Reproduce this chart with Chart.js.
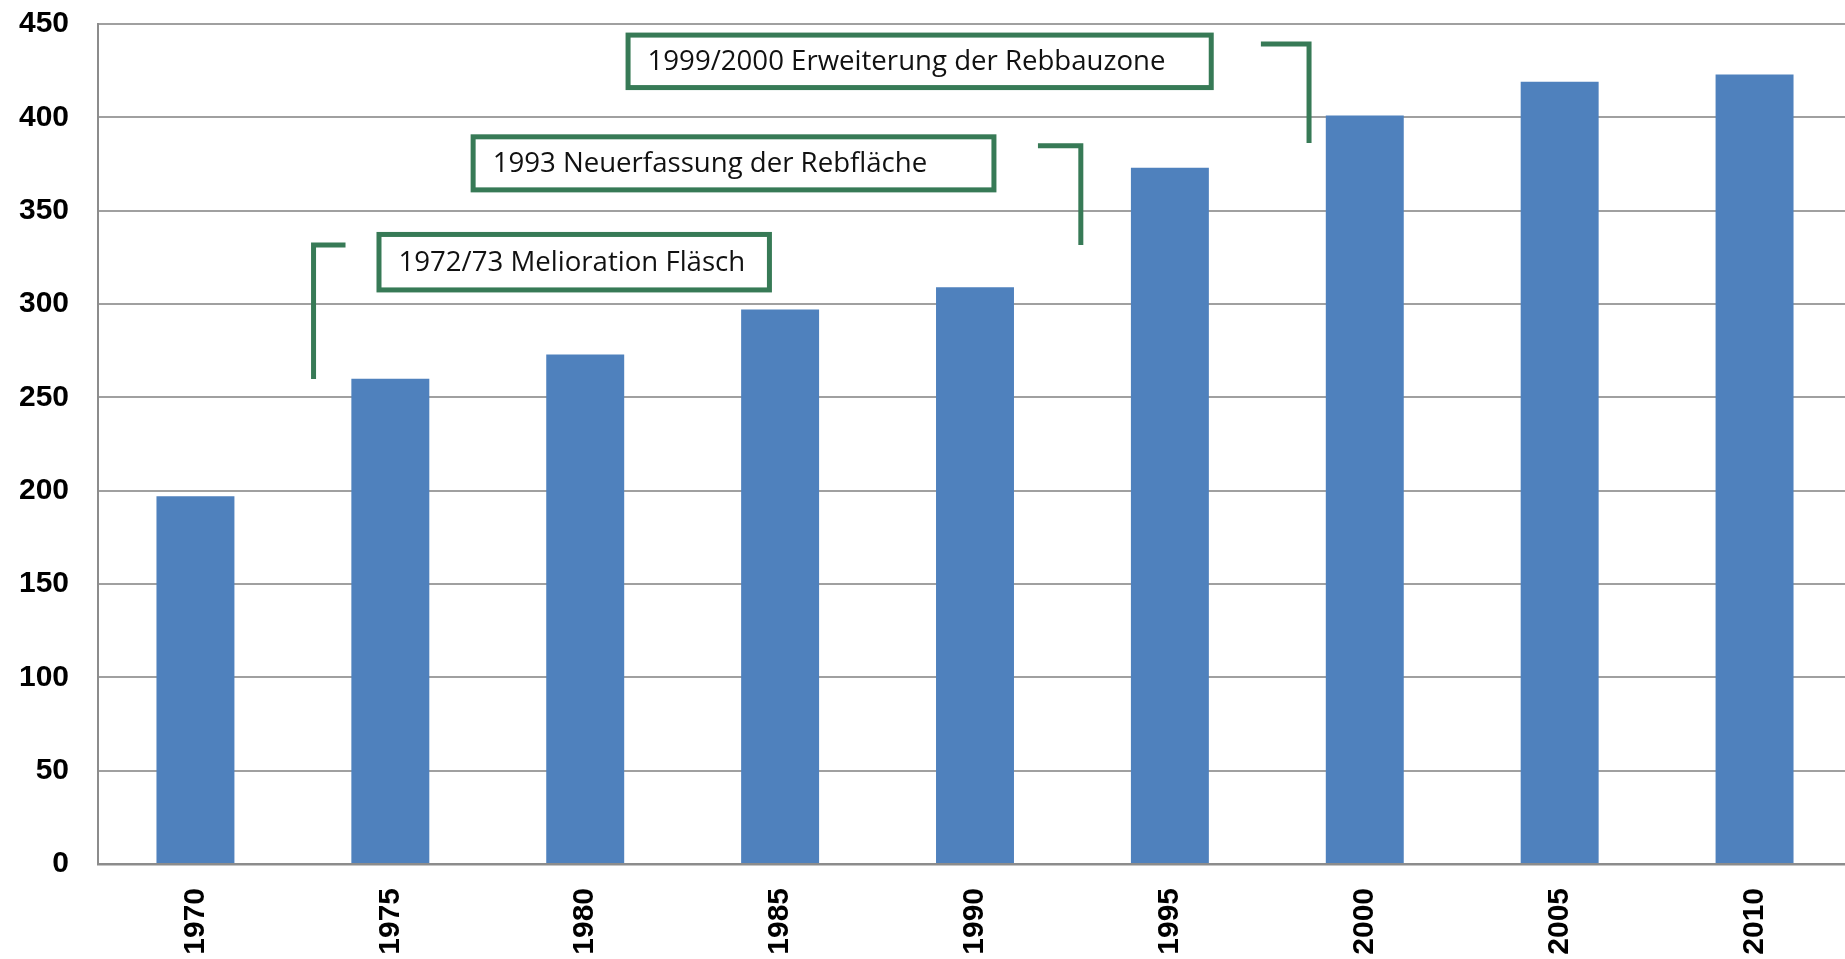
<!DOCTYPE html>
<html>
<head>
<meta charset="utf-8">
<script src="https://cdn.jsdelivr.net/npm/chart.js@4"></script>
<style>
html,body{margin:0;padding:0;background:#fff;overflow:hidden;}
#wrap{width:1845px;height:959px;overflow:hidden;}
</style>
</head>
<body>
<div id="wrap"><canvas id="c" width="1852" height="959"></canvas></div>
<script>
// ---- data ----
const years = ["1970","1975","1980","1985","1990","1995","2000","2005","2010"];
const area  = [197, 260, 273, 297, 309, 373, 401, 419, 423];
const yTicks = [0, 50, 100, 150, 200, 250, 300, 350, 400, 450];

// annotation texts
const noteTexts = [
  "1999/2000 Erweiterung der Rebbauzone",
  "1993 Neuerfassung der Rebfläche",
  "1972/73 Melioration Fläsch"
];
// box extents in axis units: [x from (category index), x to, y top (value), y bottom]
const noteBoxes = [
  [2.207, 5.225, 445.4, 414.6],
  [1.412, 4.110, 390.9, 359.8],
  [0.929, 2.958, 338.6, 306.2]
];
// bracket polylines in axis units: [x, y] points
const brackets = [
  [[5.467, 439.3], [5.714, 439.3], [5.714, 386.3]],
  [[4.323, 384.8], [4.543, 384.8], [4.543, 331.6]],
  [[0.770, 331.6], [0.606, 331.6], [0.606, 259.8]]
];

const GREEN = '#377A56';

function xPix(xs, v) {
  const p0 = xs.getPixelForValue(0), p1 = xs.getPixelForValue(1);
  return p0 + v * (p1 - p0);
}

const notesPlugin = {
  id: 'notes',
  afterDatasetsDraw(chart) {
    const ctx = chart.ctx, xs = chart.scales.x, ys = chart.scales.y;
    ctx.save();
    ctx.strokeStyle = GREEN;
    ctx.lineWidth = 5;
    ctx.lineJoin = 'miter';
    brackets.forEach(pts => {
      ctx.beginPath();
      pts.forEach((p, i) => {
        const px = xPix(xs, p[0]), py = ys.getPixelForValue(p[1]);
        if (i === 0) ctx.moveTo(px, py); else ctx.lineTo(px, py);
      });
      ctx.stroke();
    });
    noteBoxes.forEach((b, i) => {
      const x1 = xPix(xs, b[0]), x2 = xPix(xs, b[1]);
      const y1 = ys.getPixelForValue(b[2]), y2 = ys.getPixelForValue(b[3]);
      ctx.fillStyle = '#ffffff';
      ctx.fillRect(x1, y1, x2 - x1, y2 - y1);
      ctx.lineWidth = 5;
      ctx.strokeStyle = GREEN;
      ctx.strokeRect(x1 + 2.5, y1 + 2.5, x2 - x1 - 5, y2 - y1 - 5);
      ctx.fillStyle = '#111111';
      ctx.font = '27.6px "Open Sans"';
      ctx.textAlign = 'left';
      ctx.textBaseline = 'middle';
      ctx.fillText(noteTexts[i], x1 + 22, (y1 + y2) / 2 + 1);
    });
    ctx.restore();
  }
};

new Chart(document.getElementById('c'), {
  type: 'bar',
  data: {
    labels: years,
    datasets: [{
      data: area,
      backgroundColor: '#4F81BD',
      borderWidth: 0,
      barPercentage: 0.4,
      categoryPercentage: 1.0
    }]
  },
  options: {
    responsive: false,
    devicePixelRatio: 1,
    animation: false,
    layout: { padding: { top: 24, right: 0, left: 0, bottom: 0 } },
    plugins: { legend: { display: false }, tooltip: { enabled: false } },
    scales: {
      x: {
        grid: { display: false, drawTicks: false },
        border: { display: true, color: '#8C8C8C', width: 2.5 },
        ticks: {
          color: '#000',
          font: { family: '"Liberation Sans", Arial', size: 30, weight: 'bold' },
          minRotation: 90, maxRotation: 90,
          padding: 24,
          autoSkip: false
        },
        afterFit(s) { s.height = 95; s.paddingLeft = 0; s.paddingRight = 0; }
      },
      y: {
        min: 0, max: 450,
        afterBuildTicks(s) { s.ticks = yTicks.map(v => ({ value: v })); },
        grid: { color: '#A0A0A0', lineWidth: 2, drawTicks: false },
        border: { display: true, color: '#8C8C8C', width: 2 },
        ticks: {
          color: '#000',
          font: { family: '"Liberation Sans", Arial', size: 30, weight: 'bold' },
          padding: 29
        },
        afterFit(s) { s.width = 98; s.paddingTop = 0; s.paddingBottom = 0; }
      }
    }
  },
  plugins: [notesPlugin]
});
</script>
</body>
</html>
